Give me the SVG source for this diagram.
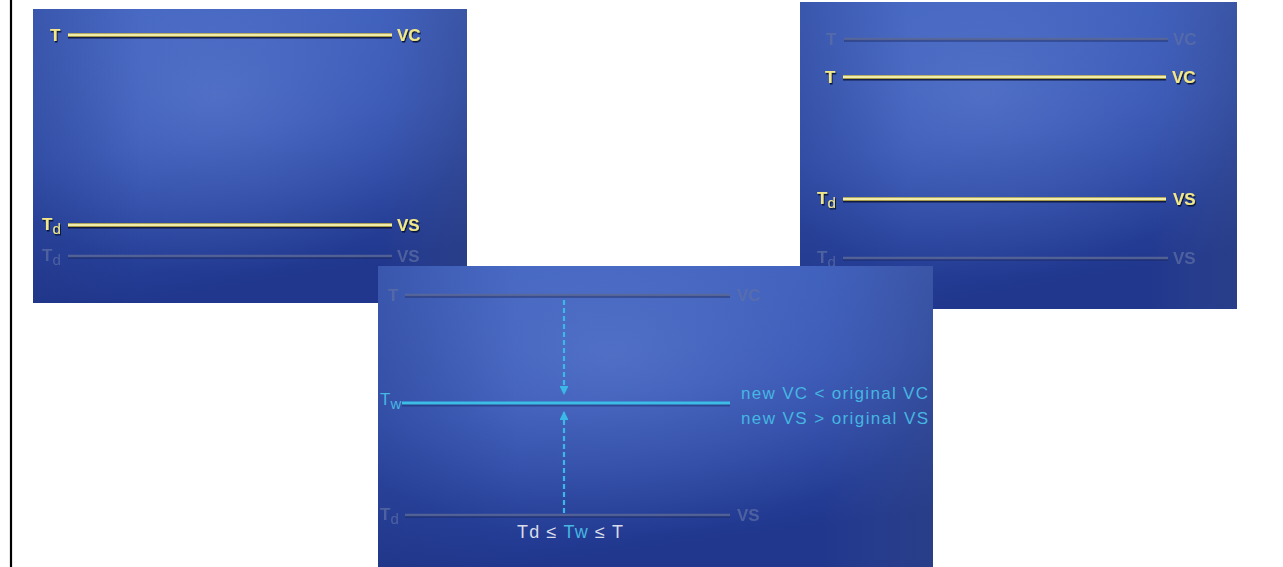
<svg xmlns="http://www.w3.org/2000/svg" width="1283" height="567" viewBox="0 0 1283 567">
<defs>
<linearGradient id="bg" x1="0" y1="0" x2="0.25" y2="1">
<stop offset="0" stop-color="#4163c0"/>
<stop offset="0.5" stop-color="#3453b2"/>
<stop offset="1" stop-color="#20378d"/>
</linearGradient>
<radialGradient id="hl" cx="0.42" cy="0.3" r="0.6">
<stop offset="0" stop-color="#7592dc" stop-opacity="0.4"/>
<stop offset="1" stop-color="#7592dc" stop-opacity="0"/>
</radialGradient>
<linearGradient id="side" x1="0" y1="0" x2="1" y2="0">
<stop offset="0" stop-color="#1a2a70" stop-opacity="0.25"/>
<stop offset="0.25" stop-color="#1a2a70" stop-opacity="0"/>
<stop offset="0.8" stop-color="#4a5a90" stop-opacity="0"/>
<stop offset="1" stop-color="#3a4a80" stop-opacity="0.35"/>
</linearGradient>
<filter id="sh" x="-20%" y="-50%" width="140%" height="200%">
<feDropShadow dx="1" dy="1.5" stdDeviation="0.7" flood-color="#060c2a" flood-opacity="0.9"/>
</filter>
<marker id="ah" viewBox="0 0 10 10" refX="9" refY="5" markerWidth="4.5" markerHeight="4" orient="auto">
<path d="M0,0 L10,5 L0,10 z" fill="#3ab8e6"/>
</marker>
</defs>
<style>
.lab{font-family:"Liberation Sans",Arial,sans-serif;font-size:17px;font-weight:bold;fill:#f2e88a;filter:url(#sh)}
.sub{font-size:15px;font-weight:normal}
.flab{font-family:"Liberation Sans",Arial,sans-serif;font-size:17px;font-weight:bold;fill:#5f70a6;opacity:0.7}
.ysh{stroke:#0a1236;stroke-width:3;opacity:0.85}
.yl{stroke:#d8c64a;stroke-width:3.5}
.yc{stroke:#fbf8cc;stroke-width:1.5}
.fsh{stroke:#18245a;stroke-width:2.5;opacity:0.5}
.fl{stroke:#5a6898;stroke-width:2.5;opacity:0.85}
.cy{fill:#46b6e2;font-family:"Liberation Sans",Arial,sans-serif}
.gr{fill:#d8dce8}
.dash{stroke:#3ab8e6;stroke-width:2.2;stroke-dasharray:5 3;fill:none}
</style>
<rect width="1283" height="567" fill="#ffffff"/>
<line x1="11" y1="0" x2="11" y2="567" stroke="#000" stroke-width="2.2"/>

<g id="panel1">
<rect x="33" y="9" width="434" height="294" fill="url(#bg)"/>
<rect x="33" y="9" width="434" height="294" fill="url(#hl)"/>
<rect x="33" y="9" width="434" height="294" fill="url(#side)"/>
<g id="p1-T-VC">
<line class="ysh" x1="68" y1="37" x2="392" y2="37"/>
<line class="yl" x1="68" y1="35" x2="392" y2="35"/>
<line class="yc" x1="68" y1="35" x2="392" y2="35"/>
<text class="lab" x="50" y="41">T</text>
<text class="lab" x="397" y="41">VC</text>
</g>
<g id="p1-Td-VS">
<line class="ysh" x1="68" y1="227" x2="392" y2="227"/>
<line class="yl" x1="68" y1="225" x2="392" y2="225"/>
<line class="yc" x1="68" y1="225" x2="392" y2="225"/>
<text class="lab" x="42" y="230">T<tspan class="sub" dy="4">d</tspan></text>
<text class="lab" x="397" y="231">VS</text>
</g>
<g id="p1-Td-VS-old">
<line class="fsh" x1="68" y1="257.5" x2="392" y2="257.5"/>
<line class="fl" x1="68" y1="256" x2="392" y2="256"/>
<text class="flab" x="42" y="261">T<tspan class="sub" dy="4">d</tspan></text>
<text class="flab" x="397" y="262">VS</text>
</g>
</g>

<g id="panel2">
<rect x="800" y="2" width="437" height="307" fill="url(#bg)"/>
<rect x="800" y="2" width="437" height="307" fill="url(#hl)"/>
<rect x="800" y="2" width="437" height="307" fill="url(#side)"/>
<g id="p2-T-VC-old">
<line class="fsh" x1="844" y1="40.5" x2="1168" y2="40.5"/>
<line class="fl" x1="844" y1="39" x2="1168" y2="39"/>
<text class="flab" x="826" y="45">T</text>
<text class="flab" x="1173" y="45">VC</text>
</g>
<g id="p2-T-VC">
<line class="ysh" x1="843" y1="79" x2="1166" y2="79"/>
<line class="yl" x1="843" y1="77" x2="1166" y2="77"/>
<line class="yc" x1="843" y1="77" x2="1166" y2="77"/>
<text class="lab" x="825" y="83">T</text>
<text class="lab" x="1172" y="83">VC</text>
</g>
<g id="p2-Td-VS">
<line class="ysh" x1="843" y1="201" x2="1166" y2="201"/>
<line class="yl" x1="843" y1="199" x2="1166" y2="199"/>
<line class="yc" x1="843" y1="199" x2="1166" y2="199"/>
<text class="lab" x="817" y="204">T<tspan class="sub" dy="4">d</tspan></text>
<text class="lab" x="1173" y="205">VS</text>
</g>
<g id="p2-Td-VS-old">
<line class="fsh" x1="843" y1="259.5" x2="1168" y2="259.5"/>
<line class="fl" x1="843" y1="258" x2="1168" y2="258"/>
<text class="flab" x="817" y="263">T<tspan class="sub" dy="4">d</tspan></text>
<text class="flab" x="1173" y="264">VS</text>
</g>
</g>

<g id="panel3">
<rect x="378" y="266" width="555" height="301" fill="url(#bg)"/>
<rect x="378" y="266" width="555" height="301" fill="url(#hl)"/>
<rect x="378" y="266" width="555" height="301" fill="url(#side)"/>
<g id="p3-T-VC-old">
<line class="fsh" x1="405" y1="296.5" x2="730" y2="296.5"/>
<line class="fl" x1="405" y1="295" x2="730" y2="295"/>
<text class="flab" x="388" y="301">T</text>
<text class="flab" x="737" y="301">VC</text>
</g>
<g id="p3-Tw">
<line stroke="#1a2a68" stroke-width="3" opacity="0.5" x1="402" y1="405" x2="730" y2="405"/>
<line stroke="#3cbce6" stroke-width="3" x1="402" y1="403" x2="730" y2="403"/>
<text class="cy" x="380" y="405" font-size="17">T<tspan font-size="15" dy="4">w</tspan></text>
<text class="cy" x="741" y="399" font-size="17" textLength="187" lengthAdjust="spacing">new VC &lt; original VC</text>
<text class="cy" x="741" y="424" font-size="17" textLength="187" lengthAdjust="spacing">new VS &gt; original VS</text>
</g>
<g id="p3-Td-VS-old">
<line class="fsh" x1="405" y1="516.5" x2="730" y2="516.5"/>
<line class="fl" x1="405" y1="515" x2="730" y2="515"/>
<text class="flab" x="380" y="520">T<tspan class="sub" dy="4">d</tspan></text>
<text class="flab" x="737" y="521">VS</text>
</g>
<g id="p3-formula">
<text x="517" y="538" font-family="Liberation Sans, Arial, sans-serif" font-size="18" textLength="106" lengthAdjust="spacing"><tspan class="gr">Td ≤ </tspan><tspan class="cy">Tw</tspan><tspan class="gr"> ≤ T</tspan></text>
</g>
</g>

<g id="connectors">
<line class="dash" x1="564" y1="300" x2="564" y2="394" marker-end="url(#ah)"/>
<line class="dash" x1="564" y1="513" x2="564" y2="412" marker-end="url(#ah)"/>
</g>
</svg>
